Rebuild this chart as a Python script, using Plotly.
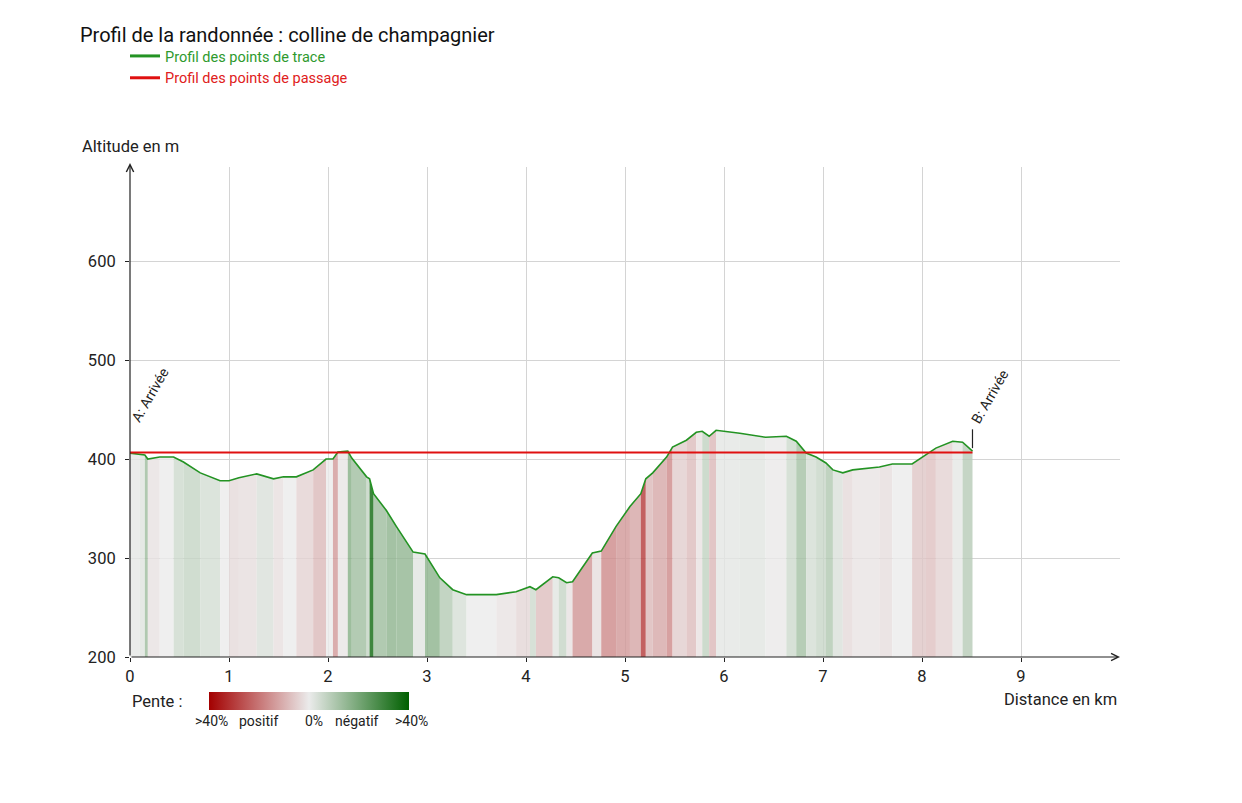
import plotly.graph_objects as go
from plotly.colors import sample_colorscale

# profil (km, m)
distance_km = [0.00, 0.10, 0.15, 0.18, 0.30, 0.44, 0.54, 0.71, 0.91, 1.00,
               1.10, 1.28, 1.45, 1.55, 1.68, 1.85, 1.98, 2.05, 2.10, 2.20,
               2.24, 2.39, 2.42, 2.46, 2.59, 2.69, 2.86, 2.98, 3.13, 3.26,
               3.40, 3.70, 3.90, 4.04, 4.10, 4.27, 4.33, 4.41, 4.47, 4.67,
               4.76, 4.91, 5.05, 5.16, 5.21, 5.28, 5.42, 5.48, 5.62, 5.72,
               5.78, 5.85, 5.92, 6.16, 6.42, 6.63, 6.73, 6.83, 6.93, 7.03,
               7.10, 7.20, 7.30, 7.57, 7.70, 7.90, 8.04, 8.14, 8.31, 8.41,
               8.51]
altitude_m = [406, 405, 404, 400, 402, 402, 397, 386, 378, 378,
              381, 385, 380, 382, 382, 389, 400, 400, 407, 408,
              401, 382, 380, 365, 348, 332, 306, 304, 280, 268,
              263, 263, 266, 271, 268, 281, 280, 275, 276, 305,
              307, 332, 352, 365, 380, 386, 402, 412, 419, 427,
              428, 423, 429, 426, 422, 423, 418, 406, 402, 396,
              389, 386, 389, 392, 395, 395, 404, 411, 418, 417,
              408]

# points de passage A et B
passage_km = [0.00, 8.51]
passage_alt = [406.5, 406.5]
passage_labels = ["A: Arrivée", "B: Arrivée"]

x_ticks = [0, 1, 2, 3, 4, 5, 6, 7, 8, 9]
y_ticks = [200, 300, 400, 500, 600]
pente_labels = [">40%", "positif", "0%", "négatif", ">40%"]

pente_scale = [[0, "#a30000"], [0.5, "#ebebeb"], [1, "#006000"]]
FONT = "Roboto"
BASE = 200
W, H = 1242, 803
OFF = 8  # marge de la page
L, R, T, B = 130, 1120, 167, 657  # zone du graphique, en pixels de l'écran


def px(x):
    return (x - L) / (R - L)


def py(y):
    return (B - y) / (B - T)


fig = go.Figure()

# pente de chaque segment (signe inversé : rouge = montée, vert = descente)
pentes = []
for i in range(len(distance_km) - 1):
    d = (distance_km[i + 1] - distance_km[i]) * 1000
    p = (altitude_m[i + 1] - altitude_m[i]) / d * 100
    pentes.append(max(-40, min(40, -p)))

for i, v in enumerate(pentes):
    col = sample_colorscale(pente_scale, [(v + 40) / 80], colortype="tuple")[0]
    r, g, b = [int(c if c > 1 else c * 255) for c in col]
    x0, x1 = distance_km[i], distance_km[i + 1]
    fig.add_trace(go.Scatter(
        x=[x0, x0, x1, x1, x0], y=[BASE, altitude_m[i], altitude_m[i + 1], BASE, BASE],
        fill="toself", fillcolor="rgba(%d,%d,%d,0.8)" % (r, g, b),
        mode="lines", line=dict(width=0), hoverinfo="skip", showlegend=False))

# échelle des pentes
mids = [(distance_km[i] + distance_km[i + 1]) / 2 for i in range(len(pentes))]
fig.add_trace(go.Scatter(
    x=mids, y=altitude_m[1:], mode="markers", hoverinfo="skip", showlegend=False,
    marker=dict(size=1, opacity=0, color=pentes, colorscale=pente_scale, cmin=-40, cmax=40,
                showscale=True,
                colorbar=dict(orientation="h", x=px(309), xanchor="center",
                              y=py(701), yanchor="middle",
                              lenmode="pixels", len=200, thickness=18, outlinewidth=0,
                              xpad=0, ypad=0, showticklabels=False, ticks=""))))

fig.add_trace(go.Scatter(
    x=distance_km, y=altitude_m, mode="lines", line=dict(color="#239323", width=1.6),
    hoverinfo="x+y", showlegend=False))
fig.add_trace(go.Scatter(
    x=passage_km, y=passage_alt, mode="lines", line=dict(color="#e01010", width=2),
    hoverinfo="x+y", showlegend=False))

# légende (traits plus épais que les courbes)
fig.add_trace(go.Scatter(
    x=[None], y=[None], mode="lines", line=dict(color="#239323", width=3),
    name="<span style='color:#2e9a2e'>Profil des points de trace</span>"))
fig.add_trace(go.Scatter(
    x=[None], y=[None], mode="lines", line=dict(color="#e01010", width=3),
    name="<span style='color:#e02020'>Profil des points de passage</span>"))

# axes avec flèches
fig.add_annotation(x=0, y=699, ax=0, ay=BASE, xref="x", yref="y", axref="x", ayref="y",
                   showarrow=True, arrowhead=5, arrowsize=1.2, arrowwidth=1.2,
                   arrowcolor="#222", text="")
fig.add_annotation(x=10, y=BASE, ax=0, ay=BASE, xref="x", yref="y", axref="x", ayref="y",
                   showarrow=True, arrowhead=5, arrowsize=1.2, arrowwidth=1.2,
                   arrowcolor="#222", text="")

# étiquettes des points de passage
fig.add_annotation(x=0.2, y=465, text=passage_labels[0], textangle=-60, showarrow=False,
                   font=dict(family=FONT, size=14, color="#222"))
fig.add_annotation(x=passage_km[1] + 0.17, y=463, text=passage_labels[1], textangle=-60,
                   showarrow=False, font=dict(family=FONT, size=14, color="#222"))
fig.add_shape(type="line", x0=passage_km[1], x1=passage_km[1], y0=411, y1=430,
              xref="x", yref="y", line=dict(color="#222", width=1.2))

fig.add_annotation(x=px(80), y=py(147), xref="paper", yref="paper", text="Altitude en m",
                   showarrow=False, xanchor="left", yanchor="middle",
                   font=dict(family=FONT, size=16.5, color="#222"))
fig.add_annotation(x=px(1119), y=py(699), xref="paper", yref="paper",
                   text="Distance en km", showarrow=False, xanchor="right", yanchor="middle",
                   font=dict(family=FONT, size=16.5, color="#222"))
fig.add_annotation(x=px(130), y=py(701), xref="paper", yref="paper",
                   text="Pente :", showarrow=False, xanchor="left", yanchor="middle",
                   font=dict(family=FONT, size=16.5, color="#222"))
for lab, xp in zip(pente_labels, [211, 258, 314, 357, 411]):
    fig.add_annotation(x=px(xp), y=py(721), xref="paper", yref="paper",
                       text=lab, showarrow=False, xanchor="center", yanchor="middle",
                       font=dict(family=FONT, size=14, color="#222"))

fig.update_layout(
    width=W, height=H,
    margin=dict(l=L - OFF, r=W - R + OFF, t=T - OFF, b=H - B + OFF, autoexpand=False),
    plot_bgcolor="white", paper_bgcolor="white",
    font=dict(family=FONT, size=16.5, color="#222"),
    title=dict(text="Profil de la randonnée : colline de champagnier",
               x=(80 - OFF) / W, xanchor="left", y=1 - (35 - OFF) / H, yanchor="middle",
               xref="container", yref="container", pad=dict(l=0, r=0, t=0, b=0),
               font=dict(family=FONT, size=20, color="#111")),
    legend=dict(x=(125 - OFF) / W, y=1 - (40 - OFF) / H, xref="container", yref="container",
                xanchor="left", yanchor="top", font=dict(family=FONT, size=14.5),
                itemwidth=30, tracegroupgap=0, bgcolor="rgba(0,0,0,0)"),
    xaxis=dict(range=[0, 10], tickvals=x_ticks, showgrid=True, gridcolor="#d4d4d4",
               zeroline=False, showline=False, ticks="outside", ticklen=4,
               tickcolor="#222", tickfont=dict(size=16.5)),
    yaxis=dict(range=[BASE, 695], tickvals=y_ticks, showgrid=True, gridcolor="#d4d4d4",
               zeroline=False, showline=False, ticks="outside", ticklen=4,
               tickcolor="#222", tickfont=dict(size=16.5), ticklabelstandoff=6),
)

fig.write_html("out.html")
